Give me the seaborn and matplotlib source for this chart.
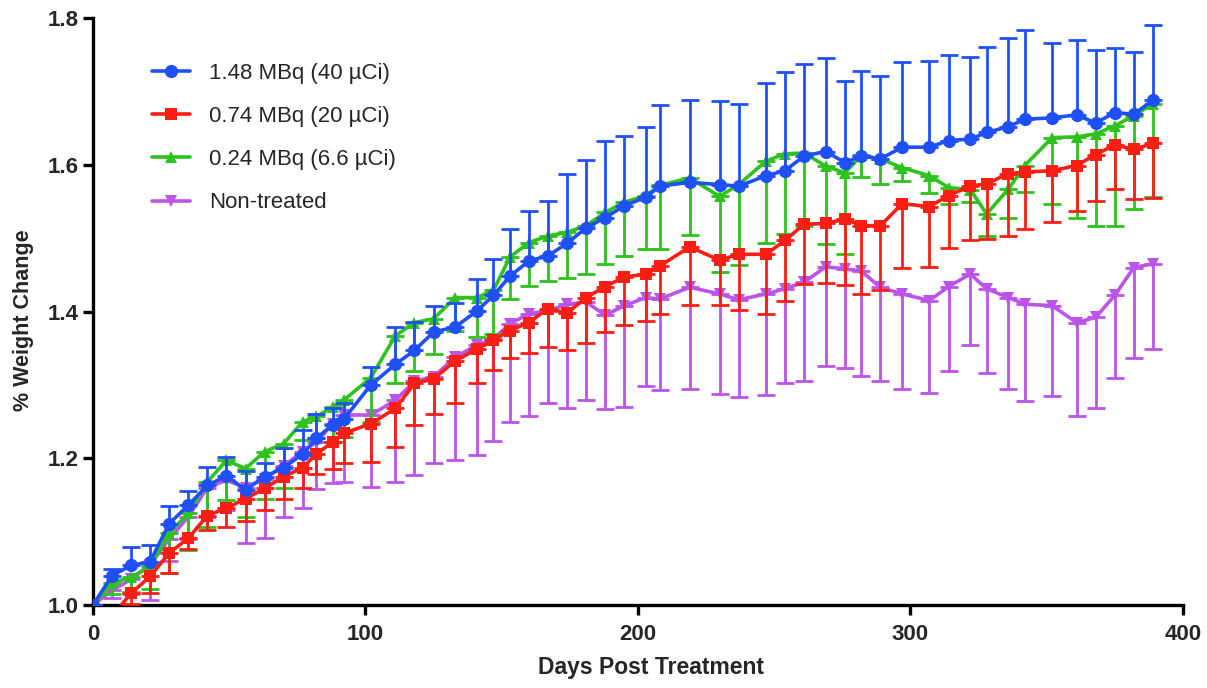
import numpy as np
import pandas as pd
import matplotlib
matplotlib.use("Agg")
import matplotlib.pyplot as plt
import seaborn as sns

# days post treatment (shared by all groups)
days = [0, 7, 14, 21, 28, 35, 42, 49, 56, 63, 70, 77, 82, 88, 92, 102, 111, 118,
        125, 133, 141, 147, 153, 160, 167, 174, 181, 188, 195, 203, 208, 219, 230,
        237, 247, 254, 261, 269, 276, 282, 289, 297, 307, 314, 322, 328, 336, 342,
        352, 361, 368, 375, 382, 389]

labels = ["1.48 MBq (40 µCi)", "0.74 MBq (20 µCi)", "0.24 MBq (6.6 µCi)", "Non-treated"]

# mean weight change
high = [1.0, 1.040, 1.054, 1.059, 1.111, 1.136, 1.163, 1.176, 1.157, 1.175, 1.187,
        1.206, 1.227, 1.246, 1.253, 1.300, 1.328, 1.347, 1.372, 1.379, 1.401, 1.422,
        1.448, 1.469, 1.476, 1.493, 1.514, 1.528, 1.544, 1.556, 1.571, 1.576, 1.573,
        1.571, 1.585, 1.592, 1.612, 1.618, 1.603, 1.612, 1.608, 1.624, 1.624, 1.633,
        1.635, 1.644, 1.652, 1.662, 1.664, 1.668, 1.657, 1.671, 1.669, 1.688]
mid = [1.0, 0.985, 1.016, 1.039, 1.071, 1.091, 1.122, 1.132, 1.145, 1.159, 1.175,
       1.187, 1.206, 1.222, 1.234, 1.247, 1.268, 1.302, 1.308, 1.333, 1.349, 1.361,
       1.374, 1.385, 1.404, 1.398, 1.419, 1.434, 1.447, 1.451, 1.462, 1.488, 1.470,
       1.478, 1.478, 1.497, 1.519, 1.520, 1.526, 1.517, 1.517, 1.547, 1.543, 1.558,
       1.571, 1.574, 1.588, 1.590, 1.592, 1.599, 1.614, 1.627, 1.621, 1.629]
low = [1.0, 1.030, 1.038, 1.052, 1.098, 1.125, 1.168, 1.197, 1.186, 1.209, 1.220,
       1.250, 1.257, 1.270, 1.279, 1.310, 1.367, 1.385, 1.390, 1.419, 1.419, 1.429,
       1.474, 1.494, 1.503, 1.508, 1.517, 1.535, 1.549, 1.558, 1.572, 1.582, 1.557,
       1.573, 1.605, 1.615, 1.616, 1.598, 1.589, 1.613, 1.608, 1.596, 1.585, 1.569,
       1.566, 1.533, 1.567, 1.599, 1.637, 1.638, 1.642, 1.653, 1.667, 1.683]
control = [1.0, 1.02, 1.035, 1.055, 1.09, 1.12, 1.16, 1.17, 1.16, 1.172, 1.19,
           1.209, 1.222, 1.247, 1.259, 1.259, 1.279, 1.305, 1.311, 1.338, 1.354, 1.363,
           1.383, 1.397, 1.401, 1.410, 1.413, 1.395, 1.408, 1.419, 1.417, 1.433, 1.424,
           1.416, 1.424, 1.431, 1.440, 1.461, 1.458, 1.455, 1.433, 1.424, 1.415, 1.434,
           1.451, 1.431, 1.419, 1.410, 1.408, 1.385, 1.392, 1.422, 1.460, 1.465]

# error bar lengths (SEM)
high_err = [0, 0.009, 0.025, 0.023, 0.024, 0.020, 0.025, 0.026, 0.026, 0.018, 0.027,
            0.032, 0.034, 0.023, 0.022, 0.025, 0.051, 0.039, 0.036, 0.032, 0.044, 0.049,
            0.064, 0.068, 0.075, 0.095, 0.093, 0.104, 0.095, 0.095, 0.110, 0.112, 0.114,
            0.112, 0.126, 0.135, 0.125, 0.127, 0.111, 0.116, 0.113, 0.116, 0.117, 0.116,
            0.112, 0.117, 0.121, 0.121, 0.102, 0.102, 0.099, 0.088, 0.085, 0.102]
mid_err = [0, 0.01, 0.015, 0.022, 0.027, 0.014, 0.020, 0.025, 0.03, 0.03, 0.03,
           0.027, 0.027, 0.037, 0.041, 0.052, 0.052, 0.057, 0.047, 0.057, 0.047, 0.041,
           0.037, 0.041, 0.052, 0.051, 0.062, 0.062, 0.065, 0.064, 0.066, 0.079, 0.061,
           0.076, 0.081, 0.082, 0.081, 0.081, 0.090, 0.093, 0.088, 0.087, 0.082, 0.071,
           0.074, 0.075, 0.085, 0.077, 0.070, 0.062, 0.064, 0.060, 0.068, 0.074]
low_err = [0, 0.015, 0.02, 0.03, 0.054, 0.05, 0.062, 0.054, 0.066, 0.065, 0.06,
           0.025, 0.03, 0.048, 0.05, 0.06, 0.064, 0.066, 0.048, 0.045, 0.054, 0.06,
           0.057, 0.059, 0.062, 0.062, 0.066, 0.070, 0.074, 0.073, 0.087, 0.078, 0.103,
           0.110, 0.111, 0.11, 0.10, 0.106, 0.110, 0.03, 0.034, 0.018, 0.024, 0.022,
           0.017, 0.030, 0.039, 0.036, 0.090, 0.110, 0.126, 0.136, 0.127, 0.127]
control_err = [0, 0.01, 0.02, 0.048, 0.03, 0.03, 0.04, 0.04, 0.076, 0.08, 0.07,
               0.077, 0.064, 0.081, 0.092, 0.098, 0.111, 0.128, 0.117, 0.14, 0.150, 0.139,
               0.134, 0.139, 0.126, 0.141, 0.133, 0.128, 0.138, 0.120, 0.124, 0.138, 0.136,
               0.133, 0.138, 0.128, 0.135, 0.135, 0.135, 0.143, 0.128, 0.130, 0.126, 0.115,
               0.097, 0.115, 0.125, 0.132, 0.123, 0.127, 0.123, 0.113, 0.123, 0.116]

means = [high, mid, low, control]
errs = [high_err, mid_err, low_err, control_err]
colors = ["#1f50f5", "#fa1e14", "#2ec21c", "#bb55ea"]
markers = ["o", "s", "^", "v"]
msizes = [9.5, 9, 8, 8]
err_up = [True, False, False, False]   # blue bars go up, the others down
zorders = [8, 6, 4, 2]

sns.set_style("ticks")
plt.rcParams["font.family"] = ["Liberation Sans", "DejaVu Sans"]
narrow = ["Liberation Sans Narrow", "Liberation Sans", "DejaVu Sans"]

fig = plt.figure(figsize=(12.07, 6.88), dpi=100)
ax = fig.add_axes([0.077, 0.1206, 0.903, 0.8532])

for i, lab in enumerate(labels):
    df = pd.DataFrame({"day": days, "value": means[i]})
    e = np.array(errs[i])
    z = np.zeros_like(e)
    yerr = [z, e] if err_up[i] else [e, z]
    ax.errorbar(df["day"], df["value"], yerr=yerr, fmt="none", ecolor=colors[i],
                elinewidth=2, capsize=6.5, capthick=2, zorder=zorders[i] - 1)
    sns.lineplot(data=df, x="day", y="value", ax=ax, color=colors[i], marker=markers[i],
                 markersize=msizes[i], markeredgewidth=0, linewidth=2.6, label=lab,
                 estimator=None, sort=False, zorder=zorders[i])

ax.set_xlim(0, 400)
ax.set_ylim(1.0, 1.8)
ax.set_xticks([0, 100, 200, 300, 400])
ax.set_yticks([1.0, 1.2, 1.4, 1.6, 1.8])
ax.set_yticklabels(["1.0", "1.2", "1.4", "1.6", "1.8"])
sns.despine(ax=ax)
for s in ["left", "bottom"]:
    ax.spines[s].set_linewidth(2.4)
    ax.spines[s].set_color("black")
ax.tick_params(axis="both", length=7, width=2.4, color="black")
ax.tick_params(axis="x", pad=7)
for t in ax.get_xticklabels() + ax.get_yticklabels():
    t.set_fontweight("bold")
    t.set_fontfamily(narrow)
    t.set_fontsize(16)

ax.set_xlabel("Days Post Treatment", fontsize=16.5, fontweight="bold")
ax.set_ylabel("% Weight Change", fontsize=15.5, fontweight="bold")
ax.xaxis.set_label_coords(0.512, -0.086)
ax.yaxis.set_label_coords(-0.054, 0.485)

h, l = ax.get_legend_handles_labels()
ax.legend(h, l, loc="upper left", bbox_to_anchor=(0.036, 0.958), frameon=False,
          fontsize=16, handlelength=1.7, handletextpad=0.85, labelspacing=1.0)

fig.savefig("out.png", dpi=100)
